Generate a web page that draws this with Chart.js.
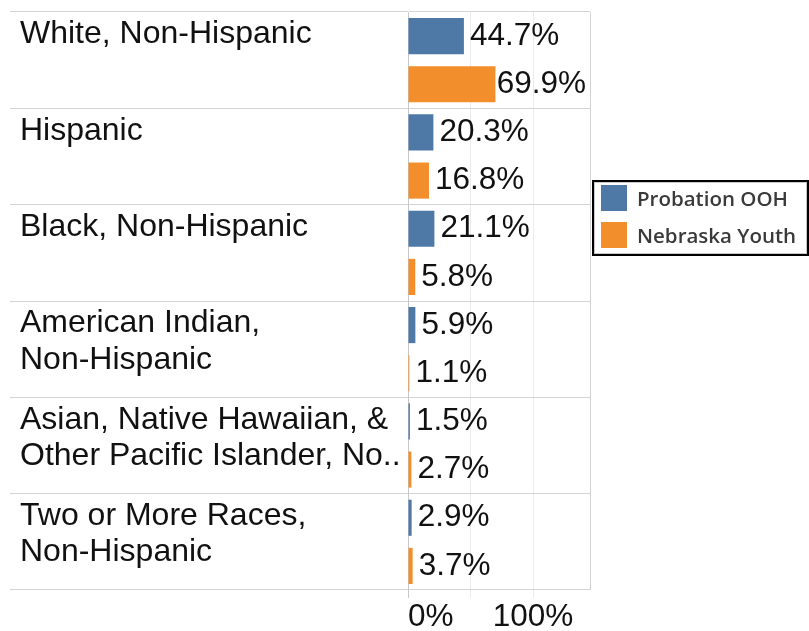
<!DOCTYPE html>
<html>
<head>
<meta charset="utf-8">
<script src="https://cdn.jsdelivr.net/npm/chart.js@4.4.1/dist/chart.umd.min.js"></script>
<style>
  html, body { margin: 0; padding: 0; background: #fff; }
  #wrap { position: relative; width: 809px; height: 631px; overflow: hidden; }
  #c { position: absolute; left: 0; top: 0; }
  #legend {
    position: absolute; left: 592px; top: 180px; width: 217px; height: 76px;
    box-sizing: border-box; border: 2px solid #000; box-shadow: inset 0 0 0 1px #c8c8c8;
    font-family: "Open Sans", sans-serif; font-weight: 600; font-size: 20.5px; color: #3a3a3a;
  }
  .item { position: absolute; left: 7px; height: 26px; display: flex; align-items: center; white-space: nowrap; }
  .sw { width: 26px; height: 26px; margin-right: 10px; flex: none; }
</style>
</head>
<body>
<div id="wrap">
  <canvas id="c" width="809" height="631"></canvas>
  <div id="legend"></div>
</div>
<script>
// ---- data ----
const categories = [
  ["White, Non-Hispanic", ""],
  ["Hispanic", ""],
  ["Black, Non-Hispanic", ""],
  ["American Indian,", "Non-Hispanic"],
  ["Asian, Native Hawaiian, &", "Other Pacific Islander, No.."],
  ["Two or More Races,", "Non-Hispanic"]
];
const seriesNames = ["Probation OOH", "Nebraska Youth"];
const probationOOH = [44.7, 20.3, 21.1, 5.9, 1.5, 2.9];
const nebraskaYouth = [69.9, 16.8, 5.8, 1.1, 2.7, 3.7];
const xTickValues = [0, 50, 100, 145.5];
const xTickLabels = {0: "0%", 100: "100%"};
const seriesColors = ["#4e79a7", "#f28e2b"];

// ---- legend (HTML) ----
const legend = document.getElementById('legend');
seriesNames.forEach((name, i) => {
  const it = document.createElement('div');
  it.className = 'item';
  it.style.top = (i === 0 ? 3 : 40) + 'px';
  const sw = document.createElement('div');
  sw.className = 'sw';
  sw.style.background = seriesColors[i];
  const tx = document.createElement('span');
  tx.textContent = name;
  it.appendChild(sw); it.appendChild(tx);
  legend.appendChild(it);
});

// ---- value labels plugin (kept inside the pane like the original) ----
const valueLabels = {
  id: 'valueLabels',
  afterDatasetsDraw(chart) {
    const ctx = chart.ctx;
    const right = chart.chartArea.right;
    ctx.save();
    ctx.font = '31.5px "Liberation Sans", Arial, sans-serif';
    ctx.fillStyle = '#111';
    ctx.textAlign = 'left';
    ctx.textBaseline = 'middle';
    chart.data.datasets.forEach((ds, di) => {
      const meta = chart.getDatasetMeta(di);
      meta.data.forEach((bar, i) => {
        const txt = ds.data[i].toFixed(1) + '%';
        const w = ctx.measureText(txt).width;
        const x = Math.min(bar.x + 6, right - w - 4);
        ctx.fillText(txt, x, bar.y);
      });
    });
    ctx.restore();
  }
};

const gridColorX = (c) => {
  const v = c.tick ? c.tick.value : null;
  if (v === 0) return '#c8c8c8';
  if (v === xTickValues[xTickValues.length - 1]) return '#d0d0d0';
  return '#ebebeb';
};

new Chart(document.getElementById('c'), {
  type: 'bar',
  data: {
    labels: categories,
    datasets: [
      { label: seriesNames[0], data: probationOOH, backgroundColor: seriesColors[0], barPercentage: 0.75, categoryPercentage: 1.0 },
      { label: seriesNames[1], data: nebraskaYouth, backgroundColor: seriesColors[1], barPercentage: 0.75, categoryPercentage: 1.0 }
    ]
  },
  options: {
    indexAxis: 'y',
    responsive: false,
    animation: false,
    devicePixelRatio: 1,
    layout: { padding: { left: 20, top: 12, right: 219, bottom: 0 } },
    plugins: { legend: { display: false }, tooltip: { enabled: false } },
    scales: {
      x: {
        type: 'linear',
        position: 'bottom',
        min: 0,
        max: xTickValues[xTickValues.length - 1],
        afterBuildTicks: (s) => { s.ticks = xTickValues.map(v => ({ value: v })); },
        afterFit: (s) => { s.height = 41; s.paddingLeft = 0; s.paddingRight = 0; },
        border: { display: false },
        grid: {
          color: gridColorX,
          tickColor: (c) => (c.tick && c.tick.value === xTickValues[xTickValues.length - 1]) ? 'rgba(0,0,0,0)' : gridColorX(c),
          lineWidth: 1,
          tickLength: 8,
          drawTicks: true
        },
        ticks: {
          autoSkip: false,
          maxRotation: 0,
          align: 'inner',
          padding: 0,
          color: '#111',
          font: { family: '"Liberation Sans", Arial, sans-serif', size: 31.5 },
          callback: (v) => xTickLabels[v] || ''
        }
      },
      y: {
        type: 'category',
        position: 'left',
        offset: true,
        afterFit: (s) => { s.width = 388; s.paddingTop = 0; s.paddingBottom = 0; },
        border: { display: true, color: '#c8c8c8', width: 1 },
        grid: {
          offset: true,
          color: '#d4d4d4',
          tickColor: '#d4d4d4',
          lineWidth: 1,
          tickLength: 398,
          drawTicks: true
        },
        ticks: {
          autoSkip: false,
          crossAlign: 'far',
          labelOffset: -7.6,
          padding: 0,
          color: '#111',
          font: { family: '"Liberation Sans", Arial, sans-serif', size: 32, lineHeight: '36.4px' }
        }
      }
    }
  },
  plugins: [valueLabels]
});
</script>
</body>
</html>
